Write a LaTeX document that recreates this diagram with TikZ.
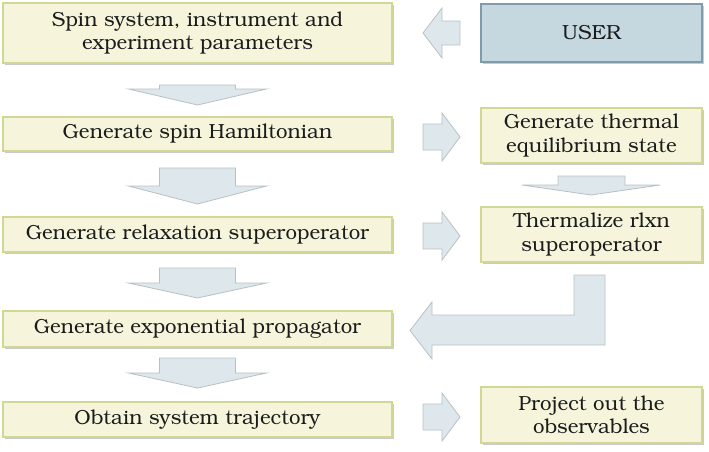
\documentclass[tikz,border=0pt]{standalone}
\usepackage[T1]{fontenc}
\usepackage{bookman}
\usepackage{xcolor}
\usetikzlibrary{shadows}

\definecolor{boxfill}{HTML}{F6F5DC}
\definecolor{boxline}{HTML}{D1D896}
\definecolor{userfill}{HTML}{C5D8E0}
\definecolor{userline}{HTML}{7F9CA8}
\definecolor{arrfill}{HTML}{DDE7EC}
\definecolor{arrline}{HTML}{B9C0C3}
\definecolor{txt}{HTML}{1C1C1C}

\tikzset{
  stepbox/.style={draw=boxline, fill=boxfill, line width=0.8pt, inner sep=0pt,
    align=center, text=txt, font=\fontsize{15.3}{17.5}\selectfont,
    drop shadow={shadow xshift=1.2pt, shadow yshift=-1.2pt, opacity=0.35, fill=black!60}},
  leftbox/.style={stepbox, minimum width=291.75pt},
  rightbox/.style={stepbox, minimum width=165.75pt},
  blk/.style={draw=arrline, fill=arrfill, line width=0.6pt, line join=miter}
}

\begin{document}
\begin{tikzpicture}[x=0.75pt,y=0.75pt,yscale=-1,xscale=1]
\useasboundingbox (0,0) rectangle (709,451);
% left column
\node[leftbox, minimum height=45pt] (spin) at (197.5,33) {Spin system, instrument and\\experiment parameters};
\node[leftbox, minimum height=25.5pt] (ham) at (197.5,134) {Generate spin Hamiltonian};
\node[leftbox, minimum height=26.25pt] (rlx) at (197.5,234.5) {Generate relaxation superoperator};
\node[leftbox, minimum height=27pt] (prop) at (197.5,329) {Generate exponential propagator};
\node[leftbox, minimum height=26.25pt] (traj) at (197.5,419.5) {Obtain system trajectory};
% right column
\node[rightbox, draw=userline, fill=userfill, minimum height=43.5pt] (user) at (591.5,33) {USER};
\node[rightbox, minimum height=41.25pt] (therm) at (591.5,135.5) {Generate thermal\\equilibrium state};
\node[rightbox, minimum height=41.25pt] (tlx) at (591.5,234.5) {Thermalize rlxn\\superoperator};
\node[rightbox, minimum height=42pt] (obs) at (591.5,415) {Project out the\\observables};
% down arrows
\foreach \t/\h/\b in {85/89/105,168/186/204,268/283/298,358/373/388}
  \draw[blk] (159.5,\t) -- (235.5,\t) -- (235.5,\h) -- (266.5,\h) -- (197.5,\b) -- (128.5,\h) -- (159.5,\h) -- cycle;
\draw[blk] (558,176) -- (625,176) -- (625,185) -- (660,185) -- (591,195) -- (522,185) -- (558,185) -- cycle;
% side arrows
\foreach \c in {137,236,417}
  \draw[blk] (423,{\c-13}) -- (442,{\c-13}) -- (442,{\c-24}) -- (460,\c) -- (442,{\c+24}) -- (442,{\c+13}) -- (423,{\c+13}) -- cycle;
\draw[blk] (460,21) -- (442,21) -- (442,8) -- (423,33) -- (442,58) -- (442,45) -- (460,45) -- cycle;
\draw[blk] (574,275) -- (605,275) -- (605,345) -- (432,345) -- (432,359) -- (410,330.5) -- (432,302) -- (432,315) -- (574,315) -- cycle;
\end{tikzpicture}
\end{document}
